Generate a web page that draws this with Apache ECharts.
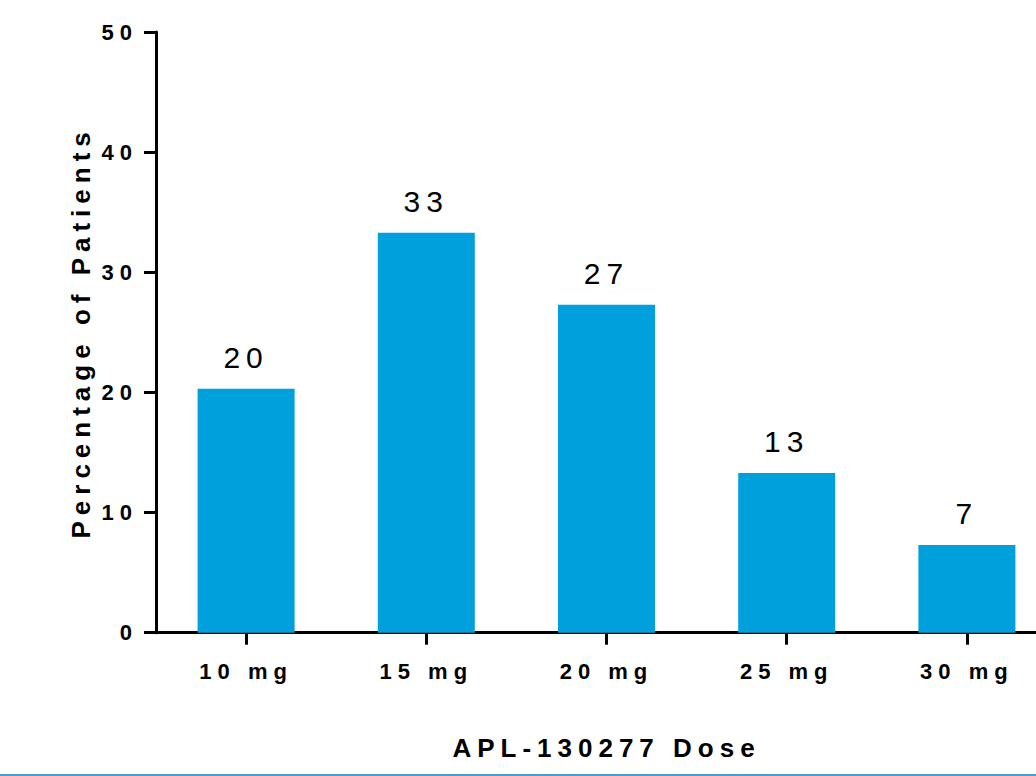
<!DOCTYPE html>
<html>
<head>
<meta charset="utf-8">
<script src="https://cdn.jsdelivr.net/npm/echarts@6/dist/echarts.min.js"></script>
<style>
  html, body { margin: 0; padding: 0; background: #ffffff; }
  #chart { width: 1036px; height: 776px; }
  #chart text { letter-spacing: 6px; }
</style>
</head>
<body>
<div id="chart"></div>
<script>
const categories = ['10 mg', '15 mg', '20 mg', '25 mg', '30 mg'];
const percentages = [20.3, 33.3, 27.3, 13.3, 7.3];
const yTicks = [0, 10, 20, 30, 40, 50];
const xTitle = 'APL-130277 Dose';
const yTitle = 'Percentage of Patients';

const FONT = "'Liberation Sans', Arial, Helvetica, sans-serif";
const chart = echarts.init(document.getElementById('chart'), null, { renderer: 'svg' });

chart.setOption({
  backgroundColor: '#ffffff',
  animation: false,
  grid: { left: 156, top: 32, width: 901, height: 600.7, containLabel: false, outerBoundsMode: 'none' },
  xAxis: {
    type: 'category',
    data: categories,
    name: xTitle,
    nameLocation: 'middle',
    nameGap: 102,
    nameTextStyle: { fontFamily: FONT, fontSize: 26, fontWeight: 'bold', color: '#000' },
    axisLine: { show: true, lineStyle: { color: '#000', width: 3 } },
    axisTick: { show: true, alignWithLabel: true, length: 12, lineStyle: { color: '#000', width: 3 } },
    axisLabel: { fontFamily: FONT, fontSize: 22, fontWeight: 'bold', color: '#000', margin: 28 },
    splitLine: { show: false }
  },
  yAxis: {
    type: 'value',
    min: yTicks[0],
    max: yTicks[yTicks.length - 1],
    interval: yTicks[1] - yTicks[0],
    name: yTitle,
    nameLocation: 'middle',
    nameGap: 62,
    nameTextStyle: { fontFamily: FONT, fontSize: 26, fontWeight: 'bold', color: '#000' },
    axisLine: { show: true, lineStyle: { color: '#000', width: 3 } },
    axisTick: { show: true, length: 12, lineStyle: { color: '#000', width: 3 } },
    axisLabel: { fontFamily: FONT, fontSize: 22, fontWeight: 'bold', color: '#000', margin: 18 },
    splitLine: { show: false }
  },
  series: [{
    type: 'bar',
    data: percentages,
    barWidth: 97,
    itemStyle: { color: '#00A0DC' },
    label: {
      show: true,
      position: 'top',
      distance: 16,
      fontFamily: FONT,
      fontSize: 30,
      color: '#000',
      formatter: p => String(Math.round(p.value))
    }
  }],
  graphic: [{
    type: 'rect',
    left: 0,
    bottom: 0,
    shape: { width: 1036, height: 2 },
    style: { fill: '#4a9ccc' },
    silent: true
  }]
});
</script>
</body>
</html>
